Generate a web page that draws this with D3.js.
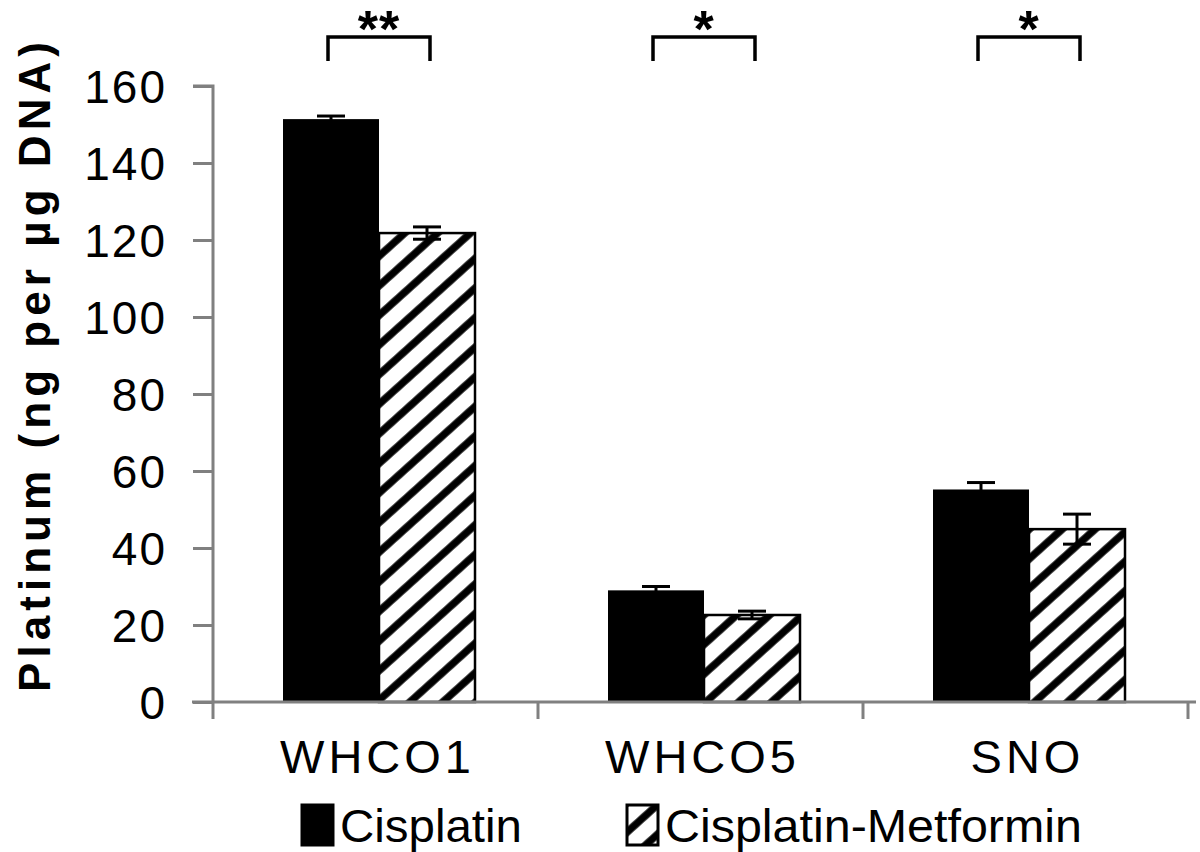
<!DOCTYPE html>
<html>
<head>
<meta charset="utf-8">
<script src="https://cdn.jsdelivr.net/npm/d3@7"></script>
<style>
  html, body { margin: 0; padding: 0; background: #fff; }
  svg { display: block; font-family: "Liberation Sans", Arial, sans-serif; }
</style>
</head>
<body>
<svg id="chart" width="1200" height="852"></svg>
<script>
// ---- data ----
const categories = ["WHCO1", "WHCO5", "SNO"];
const seriesNames = ["Cisplatin", "Cisplatin-Metformin"];
const cisplatinValues = [151.4, 29.0, 55.2];
const cisplatinErrors = [0.8, 1.0, 1.8];
const metforminValues = [121.8, 22.6, 44.9];
const metforminErrors = [1.6, 1.0, 3.9];
const significance = ["**", "*", "*"];
const yTicks = [0, 20, 40, 60, 80, 100, 120, 140, 160];
const yTitle = "Platinum (ng per µg DNA)";

const svg = d3.select("#chart");

// hatch pattern
const defs = svg.append("defs");
const pat = defs.append("pattern")
  .attr("id", "hatch")
  .attr("patternUnits", "userSpaceOnUse")
  .attr("width", 22).attr("height", 22)
  .attr("patternTransform", "rotate(48)");
pat.append("rect").attr("width", 22).attr("height", 22).attr("fill", "#fff");
pat.append("line").attr("x1", 4).attr("y1", 0).attr("x2", 4).attr("y2", 22)
  .attr("stroke", "#000").attr("stroke-width", 7.5);

// scales
const y = d3.scaleLinear().domain([0, 160]).range([702, 86]);
const x = d3.scaleBand().domain(categories).range([213, 1188]).padding(0);
const x1 = d3.scaleBand().domain(seriesNames).range([70, 262]).padding(0);

const fills = { "Cisplatin": "#000", "Cisplatin-Metformin": "url(#hatch)" };
const valuesBy = { "Cisplatin": cisplatinValues, "Cisplatin-Metformin": metforminValues };
const errorsBy = { "Cisplatin": cisplatinErrors, "Cisplatin-Metformin": metforminErrors };

const rows = [];
categories.forEach((c, i) => {
  seriesNames.forEach(s => rows.push({ cat: c, series: s, value: valuesBy[s][i], err: errorsBy[s][i] }));
});

// bars
svg.append("g").selectAll("rect").data(rows).join("rect")
  .attr("x", d => x(d.cat) + x1(d.series))
  .attr("y", d => y(d.value))
  .attr("width", x1.bandwidth())
  .attr("height", d => y(0) - y(d.value))
  .attr("fill", d => fills[d.series])
  .attr("stroke", d => d.series === "Cisplatin" ? "none" : "#000")
  .attr("stroke-width", 2.5);

// error bars
const eg = svg.append("g").attr("stroke", "#000").attr("stroke-width", 3);
rows.forEach(d => {
  const cx = x(d.cat) + x1(d.series) + x1.bandwidth() / 2;
  eg.append("line").attr("x1", cx).attr("x2", cx).attr("y1", y(d.value + d.err)).attr("y2", y(d.value - d.err));
  eg.append("line").attr("x1", cx - 14).attr("x2", cx + 14).attr("y1", y(d.value + d.err)).attr("y2", y(d.value + d.err));
  eg.append("line").attr("x1", cx - 14).attr("x2", cx + 14).attr("y1", y(d.value - d.err)).attr("y2", y(d.value - d.err));
});

// y axis
const yAxis = d3.axisLeft(y).tickValues(yTicks).tickSize(20).tickPadding(28).tickFormat(d3.format("d"));
const yg = svg.append("g").attr("transform", "translate(213,0)").call(yAxis);
yg.select(".domain").attr("stroke", "#808080").attr("stroke-width", 3).attr("d", `M-20,${y(160)}H0V${y(0)}`);
yg.selectAll(".tick line").attr("stroke", "#808080").attr("stroke-width", 3);
yg.selectAll(".tick text").attr("font-size", 46).attr("fill", "#000")
  .attr("font-family", "Liberation Sans, Arial, sans-serif")
  .attr("letter-spacing", 2).attr("dx", 2).attr("dy", "0.36em");

// x axis
const xAxis = d3.axisBottom(x).tickSize(0).tickPadding(0);
const xg = svg.append("g").attr("transform", `translate(0,${y(0)})`).call(xAxis);
xg.select(".domain").attr("stroke", "#808080").attr("stroke-width", 3).attr("d", "M192,0H1196");
xg.selectAll(".tick text").attr("font-size", 47).attr("fill", "#000")
  .attr("font-family", "Liberation Sans, Arial, sans-serif")
  .attr("letter-spacing", 4).attr("dx", 2).attr("y", 71).attr("dy", 0);
// x category boundary ticks
const bounds = categories.map(c => x(c)).concat([x(categories[categories.length - 1]) + x.bandwidth()]);
xg.selectAll("line.bound").data(bounds).join("line").attr("class", "bound")
  .attr("x1", d => d).attr("x2", d => d).attr("y1", 0).attr("y2", 17)
  .attr("stroke", "#808080").attr("stroke-width", 3);

// y title
svg.append("text")
  .attr("transform", `translate(50,${(692 + 42) / 2}) rotate(-90)`)
  .attr("text-anchor", "middle")
  .attr("font-size", 44).attr("font-weight", "bold")
  .attr("textLength", 650).attr("lengthAdjust", "spacing")
  .text(yTitle);

// significance brackets
const bg = svg.append("g");
categories.forEach((c, i) => {
  const xa = x(c) + x1(seriesNames[0]) + x1.bandwidth() / 2 - 3;
  const xb = x(c) + x1(seriesNames[1]) + x1.bandwidth() / 2 + 3;
  bg.append("path")
    .attr("d", `M${xa},61V37H${xb}V61`)
    .attr("fill", "none").attr("stroke", "#000").attr("stroke-width", 3.5);
  bg.append("text")
    .attr("x", (xa + xb) / 2).attr("y", 47)
    .attr("text-anchor", "middle")
    .attr("font-size", 52).attr("font-weight", "bold")
    .attr("letter-spacing", 1)
    .text(significance[i]);
});

// legend
const lg = svg.append("g");
const legendX = [302, 627];
const legendTextLen = [182, 417];
seriesNames.forEach((s, i) => {
  lg.append("rect").attr("x", legendX[i]).attr("y", 805).attr("width", 31).attr("height", 40)
    .attr("fill", fills[s]).attr("stroke", "#000").attr("stroke-width", 3);
  lg.append("text").attr("x", legendX[i] + 38).attr("y", 842)
    .attr("font-size", 46)
    .attr("textLength", legendTextLen[i]).attr("lengthAdjust", "spacingAndGlyphs")
    .text(s);
});
</script>
</body>
</html>
